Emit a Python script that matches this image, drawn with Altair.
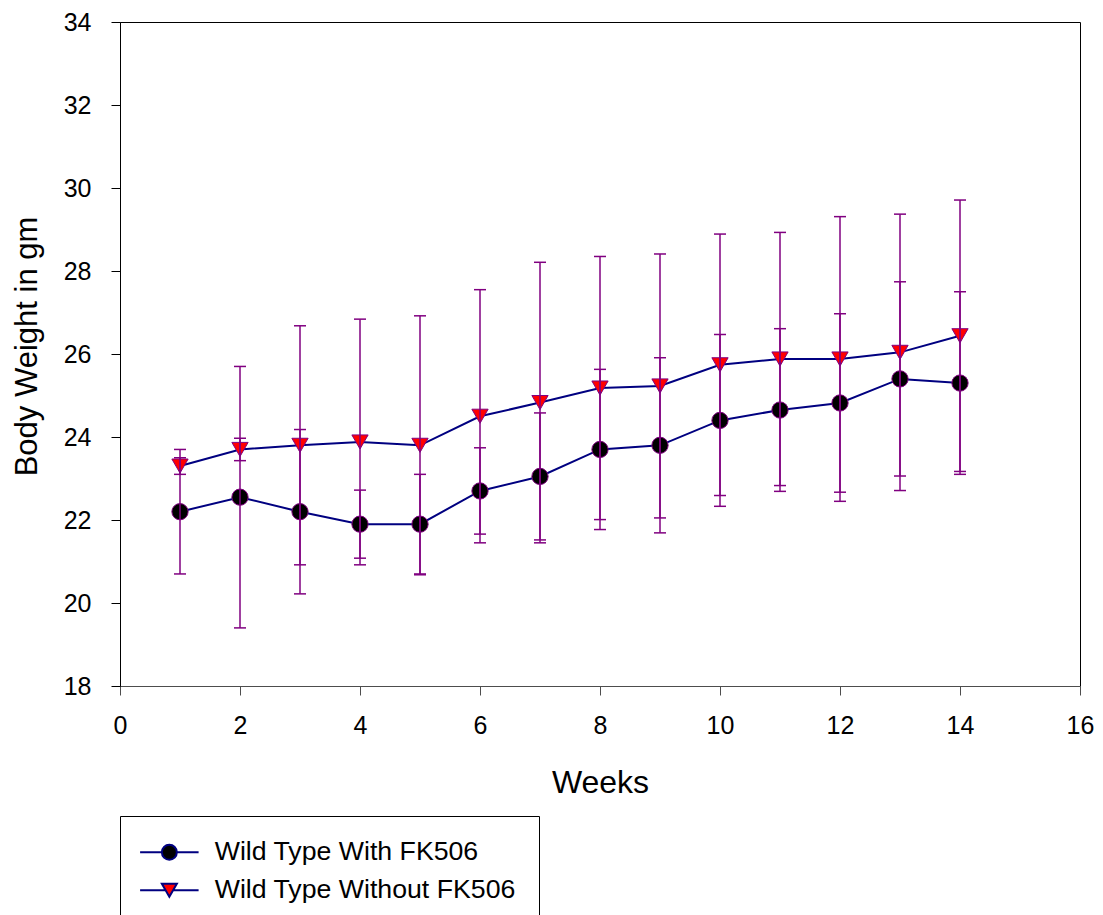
import altair as alt
import pandas as pd

# ---- data ----
series_names = ["Wild Type With FK506", "Wild Type Without FK506"]
weeks = [1, 2, 3, 4, 5, 6, 7, 8, 9, 10, 11, 12, 13, 14]
with_mean = [22.2, 22.55, 22.2, 21.9, 21.9, 22.7, 23.05, 23.7, 23.8, 24.4, 24.65, 24.82, 25.4, 25.3]
with_sd = [1.5, 3.15, 1.98, 0.82, 1.2, 1.04, 1.53, 1.93, 2.11, 2.07, 1.96, 2.15, 2.34, 2.2]
without_mean = [23.3, 23.7, 23.8, 23.88, 23.8, 24.5, 24.83, 25.18, 25.23, 25.74, 25.88, 25.88, 26.04, 26.44]
without_sd = [0.2, 0.27, 2.88, 2.96, 3.12, 3.05, 3.38, 3.17, 3.18, 3.15, 3.05, 3.43, 3.33, 3.27]

x_ticks = [0, 2, 4, 6, 8, 10, 12, 14, 16]
y_ticks = [18, 20, 22, 24, 26, 28, 30, 32, 34]

rows = []
for name, means, sds in [(series_names[0], with_mean, with_sd),
                         (series_names[1], without_mean, without_sd)]:
    for w, m, s in zip(weeks, means, sds):
        rows.append({"series": name, "week": w, "mean": m, "lo": m - s, "hi": m + s})
df = pd.DataFrame(rows)

FONT = "Liberation Sans"
NAVY = "#000080"
PURPLE = "#800080"

x_enc = alt.X(
    "week:Q",
    scale=alt.Scale(domain=[0, 16], nice=False, zero=False),
    axis=alt.Axis(
        values=x_ticks, format="d", title="Weeks", grid=False,
        tickSize=9, labelFontSize=25, labelPadding=18, labelFont=FONT,
        labelColor="black", labelFlush=False, labelOverlap=False,
        titleFont=FONT, titleFontSize=32, titleFontWeight="normal",
        titleColor="black", titleY=106, titleBaseline="alphabetic",
        domainColor="#4d4d4d", tickColor="#4d4d4d",
    ),
)
y_scale = alt.Scale(domain=[18, 34], nice=False, zero=False)
y_axis = alt.Axis(
    values=y_ticks, format="d", title="Body Weight in gm", grid=False,
    tickSize=9, labelFontSize=25, labelPadding=20, labelFont=FONT,
    labelColor="black", labelOverlap=False, labelFlush=False,
    titleFont=FONT, titleFontSize=31, titleFontWeight="normal",
    titleColor="black", titleAngle=270, titleX=-84, titleY=324,
    titleBaseline="alphabetic", titleAlign="center",
    domainColor="black", tickColor="black",
)

base = alt.Chart(df)

lines = base.mark_line(color=NAVY, strokeWidth=2).encode(
    x=x_enc,
    y=alt.Y("mean:Q", scale=y_scale, axis=y_axis),
    detail="series:N",
)

points = base.mark_point(filled=True, size=265, opacity=1, stroke=PURPLE, strokeWidth=1).encode(
    x=x_enc,
    y=alt.Y("mean:Q", scale=y_scale),
    fill=alt.Fill("series:N", scale=alt.Scale(domain=series_names, range=["black", "red"]), legend=None),
    shape=alt.Shape("series:N", scale=alt.Scale(domain=series_names, range=["circle", "triangle-down"]), legend=None),
)

bars = base.mark_rule(color=PURPLE, strokeWidth=1.5).encode(
    x=x_enc,
    y=alt.Y("lo:Q", scale=y_scale),
    y2="hi:Q",
)
cap_lo = base.mark_tick(orient="horizontal", size=12, thickness=1.5, color=PURPLE, opacity=1).encode(
    x=x_enc, y=alt.Y("lo:Q", scale=y_scale)
)
cap_hi = base.mark_tick(orient="horizontal", size=12, thickness=1.5, color=PURPLE, opacity=1).encode(
    x=x_enc, y=alt.Y("hi:Q", scale=y_scale)
)

circ_path = "M-3.9,0H-1M1,0H3.9M-1,0A1,1 0 1,0 1,0A1,1 0 1,0 -1,0Z"
tri_path = "M-3.9,0H-0.5M0.5,0H3.9M0,0.866L1,-0.866L-1,-0.866Z"

legend = alt.Legend(
    title=None, orient="none", legendX=0, legendY=794,
    padding=23, symbolOffset=13, labelOffset=32, rowPadding=10,
    labelFont=FONT, labelFontSize=26.7, labelColor="black", labelLimit=600,
    strokeColor="black", fillColor="white", cornerRadius=0,
    symbolSize=225, symbolStrokeWidth=2, symbolStrokeColor=NAVY, symbolOpacity=1,
)

legend_layer = base.transform_filter("false").mark_point(
    filled=True, size=225, opacity=1, strokeWidth=2
).encode(
    x=x_enc,
    y=alt.Y("mean:Q", scale=y_scale),
    fill=alt.Fill("series:N", scale=alt.Scale(domain=series_names, range=["black", "red"]), legend=legend),
    shape=alt.Shape("series:N", scale=alt.Scale(domain=series_names, range=[circ_path, tri_path]), legend=legend),
    stroke=alt.Stroke("series:N", scale=alt.Scale(domain=series_names, range=[NAVY, NAVY]), legend=legend),
)

chart = (
    alt.layer(lines, points, bars, cap_lo, cap_hi, legend_layer)
    .resolve_scale(fill="independent", shape="independent", stroke="independent")
    .properties(
        width=960, height=664,
        autosize=alt.AutoSizeParams(type="none"),
        padding={"left": 120, "top": 22, "right": 23, "bottom": 229},
        background="white",
    )
    .configure_view(stroke="black", strokeWidth=1)
    .configure_legend(strokeWidth=1)
)

chart.save("out.html", embed_options={"renderer": "svg", "actions": False})
